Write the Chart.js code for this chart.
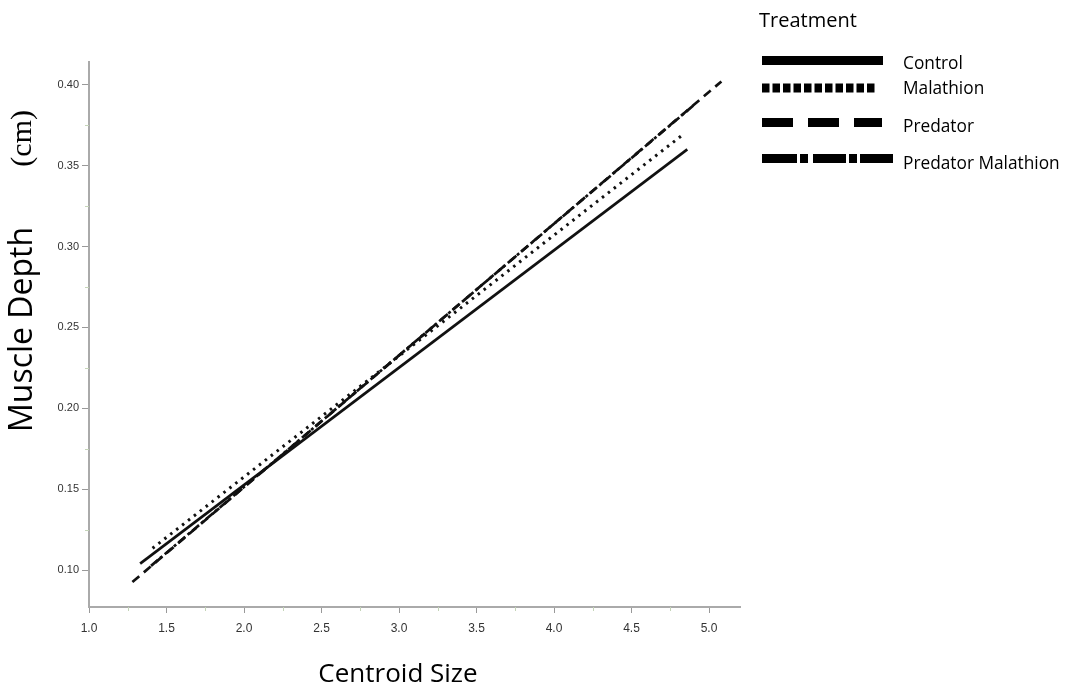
<!DOCTYPE html>
<html>
<head>
<meta charset="utf-8">
<script src="https://cdn.jsdelivr.net/npm/chart.js@4/dist/chart.umd.min.js"></script>
<style>
html,body{margin:0;padding:0;background:#fff;}
canvas{display:block;}
</style>
</head>
<body>
<canvas id="c" width="1066" height="690"></canvas>
<script>
// ---- data ----
const treatments = ['Control', 'Malathion', 'Predator', 'Predator Malathion'];
const startSize  = [1.33, 1.41, 1.28, 1.40];
const endSize    = [4.86, 4.83, 5.08, 4.91];
const startDepth = [0.104, 0.1135, 0.0926, 0.1026];
const endDepth   = [0.360, 0.369, 0.402, 0.388];

const xMajorTicks = [1.0, 1.5, 2.0, 2.5, 3.0, 3.5, 4.0, 4.5, 5.0];
const xMinorTicks = [1.25, 1.75, 2.25, 2.75, 3.25, 3.75, 4.25, 4.75];
const yMajorTicks = [0.10, 0.15, 0.20, 0.25, 0.30, 0.35, 0.40];
const yMinorTicks = [0.125, 0.175, 0.225, 0.275, 0.325, 0.375];

const xTitle = 'Centroid Size';
const yTitleMain = 'Muscle Depth';
const yTitleUnit = '(cm)';
const legendTitle = 'Treatment';

// ---- styles ----
const lineDashes = [[], [2.5, 5], [9, 6], [9, 3, 3, 3]];
const legendDashes = [[], [7.5, 3], [31, 15], [35, 3, 8, 5, 33, 3, 8, 3, 33]];
const legendLengths = [121, 114, 120, 131];
const legendY = [60.5, 88, 122.5, 158.5];
const legendTextY = [64, 89, 127, 164];

const datasets = treatments.map((t, i) => ({
  label: t,
  data: [{x: startSize[i], y: startDepth[i]}, {x: endSize[i], y: endDepth[i]}],
  showLine: true,
  borderColor: '#111',
  borderWidth: i === 1 ? 3 : 2.7,
  borderDash: lineDashes[i],
  borderCapStyle: 'butt',
  pointRadius: 0,
  fill: false
}));

const SANS = '"Open Sans", "Noto Sans", sans-serif';

const customDraw = {
  id: 'customDraw',
  afterDraw(chart) {
    const ctx = chart.ctx;
    const xs = chart.scales.x, ys = chart.scales.y;
    ctx.save();
    // minor ticks
    ctx.strokeStyle = '#c4d4b8';
    ctx.lineWidth = 1;
    xMinorTicks.forEach(v => {
      const px = Math.round(xs.getPixelForValue(v)) + 0.5;
      ctx.beginPath(); ctx.moveTo(px, xs.top); ctx.lineTo(px, xs.top + 4); ctx.stroke();
    });
    yMinorTicks.forEach(v => {
      const py = Math.round(ys.getPixelForValue(v)) + 0.5;
      ctx.beginPath(); ctx.moveTo(ys.right - 4, py); ctx.lineTo(ys.right, py); ctx.stroke();
    });
    // x title
    ctx.fillStyle = '#000';
    ctx.textBaseline = 'middle';
    ctx.textAlign = 'center';
    ctx.font = '26px ' + SANS;
    ctx.fillText(xTitle, 398, 675);
    // y title (two fonts)
    ctx.translate(23, 432);
    ctx.rotate(-Math.PI / 2);
    ctx.textAlign = 'left';
    ctx.font = '32px ' + SANS;
    ctx.fillText(yTitleMain, 0, 0);
    ctx.font = '30px "Liberation Serif", "DejaVu Serif", serif';
    const w2 = ctx.measureText(yTitleUnit).width;
    ctx.fillText(yTitleUnit, (432 - 110) - w2, 0);
    ctx.restore();

    // legend
    ctx.save();
    ctx.fillStyle = '#000';
    ctx.textBaseline = 'middle';
    ctx.textAlign = 'left';
    ctx.font = '20px ' + SANS;
    ctx.fillText(legendTitle, 759, 21);
    ctx.font = '17.3px ' + SANS;
    chart.data.datasets.forEach((ds, i) => {
      ctx.strokeStyle = '#000';
      ctx.lineWidth = 9;
      ctx.lineCap = 'butt';
      ctx.setLineDash(legendDashes[i]);
      ctx.beginPath();
      ctx.moveTo(762, legendY[i]);
      ctx.lineTo(762 + legendLengths[i], legendY[i]);
      ctx.stroke();
      ctx.setLineDash([]);
      ctx.fillText(ds.label, 903, legendTextY[i]);
    });
    ctx.restore();
  }
};

new Chart(document.getElementById('c'), {
  type: 'scatter',
  data: { datasets },
  options: {
    responsive: false,
    animation: false,
    layout: { padding: { left: 0, top: 62, right: 326, bottom: 0 } },
    plugins: { legend: { display: false }, tooltip: { enabled: false } },
    scales: {
      x: {
        type: 'linear',
        min: 1.0,
        max: 5.2,
        afterBuildTicks: s => { s.ticks = xMajorTicks.map(v => ({value: v})); },
        afterFit: s => { s.height = 83; },
        border: { color: '#aaa', width: 2 },
        grid: { drawOnChartArea: false, drawTicks: true, tickLength: 6, color: '#999', lineWidth: 1 },
        ticks: {
          padding: 8,
          color: '#333',
          font: { family: '"Liberation Sans", Arial, sans-serif', size: 12 },
          callback: v => v.toFixed(1),
          maxRotation: 0
        }
      },
      y: {
        type: 'linear',
        min: 0.0772,
        max: 0.414,
        afterBuildTicks: s => { s.ticks = yMajorTicks.map(v => ({value: v})); },
        afterFit: s => { s.width = 89; },
        border: { color: '#aaa', width: 2 },
        grid: { drawOnChartArea: false, drawTicks: true, tickLength: 7, color: '#999', lineWidth: 1 },
        ticks: {
          padding: 3,
          color: '#333',
          font: { family: '"Liberation Sans", Arial, sans-serif', size: 11 },
          callback: v => v.toFixed(2)
        }
      }
    }
  },
  plugins: [customDraw]
});
</script>
</body>
</html>
